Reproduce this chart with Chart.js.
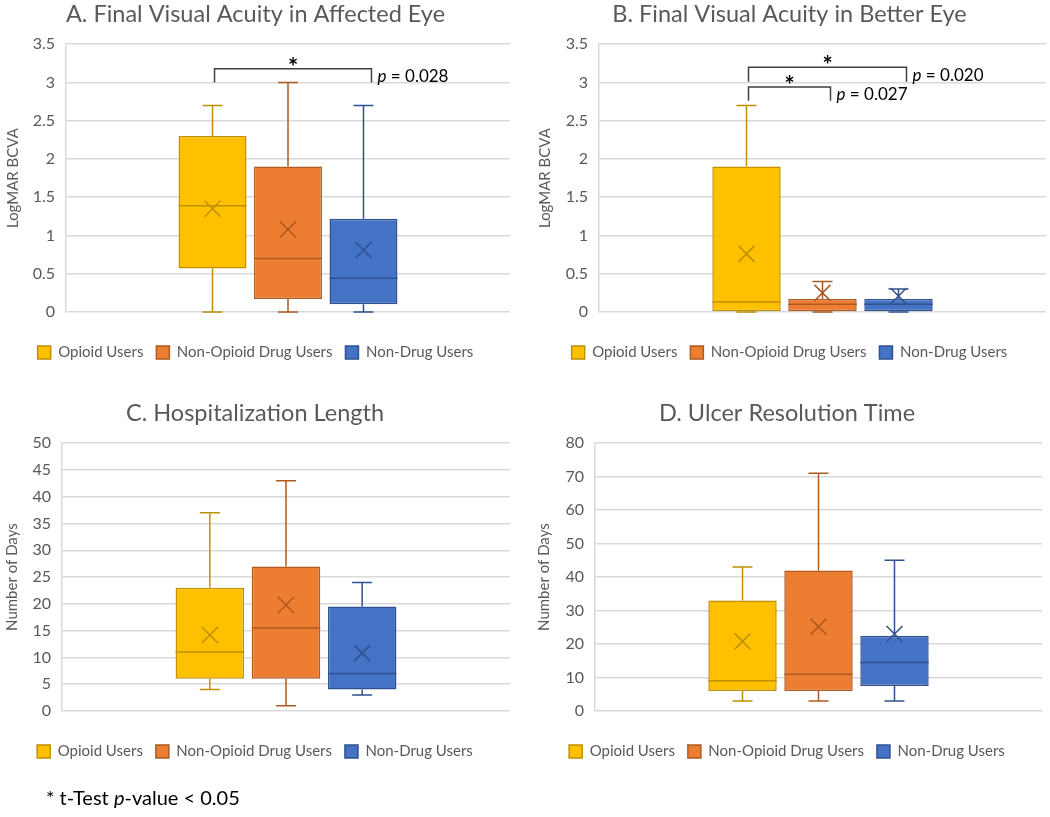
<!DOCTYPE html>
<html>
<head>
<meta charset="utf-8">
<script src="https://cdn.jsdelivr.net/npm/chart.js@4.4.1/dist/chart.umd.min.js"></script>
<style>
  body { margin: 0; background: #fff; width: 1050px; height: 817px; position: relative; overflow: hidden; font-family: Lato, sans-serif; }
  .panel { position: absolute; width: 525px; height: 390px; }
  #note { position: absolute; left: 46px; top: 785px; font-size: 20px; color: #000; white-space: nowrap; }
</style>
</head>
<body>
<div class="panel" style="left:0;top:0"><canvas id="chartA" width="525" height="390"></canvas></div>
<div class="panel" style="left:525px;top:0"><canvas id="chartB" width="525" height="390"></canvas></div>
<div class="panel" style="left:0;top:399px"><canvas id="chartC" width="525" height="390"></canvas></div>
<div class="panel" style="left:525px;top:399px"><canvas id="chartD" width="525" height="390"></canvas></div>
<div id="note">* t-Test <i>p</i>-value &lt; 0.05</div>

<script>
// grupos
const groups = ['Opioid Users', 'Non-Opioid Drug Users', 'Non-Drug Users'];

// A. agudeza visual ojo afectado (LogMAR)
const minA  = [0, 0, 0];
const q1A   = [0.57, 0.17, 0.10];
const medA  = [1.39, 0.70, 0.44];
const q3A   = [2.30, 1.90, 1.22];
const maxA  = [2.70, 3.00, 2.70];
const meanA = [1.35, 1.08, 0.81];
const ticksA = [0, 0.5, 1, 1.5, 2, 2.5, 3, 3.5];

// B. agudeza visual mejor ojo
const minB  = [0, 0, 0];
const q1B   = [0, 0, 0];
const medB  = [0.13, 0.10, 0.10];
const q3B   = [1.90, 0.17, 0.17];
const maxB  = [2.70, 0.40, 0.30];
const meanB = [0.76, 0.25, 0.21];
const ticksB = [0, 0.5, 1, 1.5, 2, 2.5, 3, 3.5];

// C. días de hospitalización
const minC  = [4, 1, 3];
const q1C   = [6, 6, 4];
const medC  = [11, 15.5, 7];
const q3C   = [23, 27, 19.5];
const maxC  = [37, 43, 24];
const meanC = [14.2, 19.8, 10.8];
const ticksC = [0, 5, 10, 15, 20, 25, 30, 35, 40, 45, 50];

// D. tiempo de resolución de la úlcera
const minD  = [3, 3, 3];
const q1D   = [6, 6, 7.5];
const medD  = [9, 11, 14.5];
const q3D   = [33, 42, 22.5];
const maxD  = [43, 71, 45];
const meanD = [20.8, 25.2, 23];
const ticksD = [0, 10, 20, 30, 40, 50, 60, 70, 80];

// comparaciones significativas (índices de grupo)
const sigA = [{ from: 0, to: 2, p: '0.028' }];
const sigB = [{ from: 0, to: 2, p: '0.020' }, { from: 0, to: 1, p: '0.027' }];

const fills = ['#FFC000', '#ED7D31', '#4472C4'];
const edges = ['#BF9000', '#AE5A21', '#2F528F'];
const FONT = 'Lato';
const GREY = '#595959';

// bigotes, mediana, media y corchetes
const boxExtras = {
    id: 'boxExtras',
    afterDatasetsDraw(chart, args, opts) {
        const ctx = chart.ctx;
        const y = chart.scales.y;
        const py = v => y.getPixelForValue(v);
        ctx.save();
        chart.data.datasets.forEach((ds, i) => {
            const bar = chart.getDatasetMeta(i).data[0];
            const s = ds.stats;
            const x = bar.x, half = bar.width / 2;
            ctx.strokeStyle = ds.borderColor;
            ctx.lineWidth = 1.5;
            ctx.beginPath();
            ctx.moveTo(x, py(s.q3)); ctx.lineTo(x, py(s.max));
            ctx.moveTo(x - 10, py(s.max)); ctx.lineTo(x + 10, py(s.max));
            ctx.moveTo(x, py(s.q1)); ctx.lineTo(x, py(s.min));
            ctx.moveTo(x - 10, py(s.min)); ctx.lineTo(x + 10, py(s.min));
            ctx.moveTo(x - half, py(s.med)); ctx.lineTo(x + half, py(s.med));
            const my = py(s.mean), m = 8;
            ctx.moveTo(x - m, my - m); ctx.lineTo(x + m, my + m);
            ctx.moveTo(x - m, my + m); ctx.lineTo(x + m, my - m);
            ctx.stroke();
        });

        (opts.brackets || []).forEach(b => {
            const x0 = chart.getDatasetMeta(b.from).data[0].x + 2;
            const x1 = chart.getDatasetMeta(b.to).data[0].x + 8;
            const yTop = py(b.top), yLeg = py(b.leg);
            ctx.strokeStyle = '#404040';
            ctx.lineWidth = 1.5;
            ctx.beginPath();
            ctx.moveTo(x0, yLeg); ctx.lineTo(x0, yTop); ctx.lineTo(x1, yTop); ctx.lineTo(x1, yLeg);
            ctx.stroke();

            ctx.fillStyle = '#000';
            ctx.textAlign = 'center';
            ctx.textBaseline = 'alphabetic';
            ctx.font = 'bold 24px ' + FONT;
            ctx.fillText('*', (x0 + x1) / 2, yTop + 7);

            const ty = (yTop + yLeg) / 2 + 1;
            ctx.textAlign = 'left';
            ctx.textBaseline = 'middle';
            ctx.font = 'italic 17px ' + FONT;
            ctx.fillText('p', x1 + 6, ty);
            const w = ctx.measureText('p').width;
            ctx.font = '17px ' + FONT;
            ctx.fillText(' = ' + b.p, x1 + 6 + w, ty);
        });
        ctx.restore();
    }
};

function makeBoxChart(id, c) {
    const datasets = groups.map((g, i) => ({
        label: g,
        data: [[c.q1[i], c.q3[i]]],
        backgroundColor: fills[i],
        borderColor: edges[i],
        borderWidth: 1.5,
        borderSkipped: false,
        categoryPercentage: 0.51,
        barPercentage: 0.9,
        stats: { min: c.min[i], q1: c.q1[i], med: c.med[i], q3: c.q3[i], max: c.max[i], mean: c.mean[i] }
    }));

    new Chart(document.getElementById(id), {
        type: 'bar',
        data: { labels: [''], datasets },
        plugins: [boxExtras],
        options: {
            responsive: false,
            animation: false,
            layout: { padding: { left: c.padLeft, right: c.padRight, top: 0, bottom: 20 } },
            scales: {
                x: {
                    display: true,
                    grid: { display: false },
                    border: { display: false },
                    ticks: { display: false },
                    afterFit: s => { s.height = 20; }
                },
                y: {
                    min: 0,
                    max: c.ticks[c.ticks.length - 1],
                    afterBuildTicks: axis => { axis.ticks = c.ticks.map(v => ({ value: v })); },
                    afterFit: s => { s.width = c.yWidth; },
                    grid: { color: '#d9d9d9', lineWidth: 1.5, drawTicks: false },
                    border: { display: true, color: '#d9d9d9', width: 1.5 },
                    ticks: {
                        padding: 11,
                        color: GREY,
                        font: { family: FONT, size: 16 },
                        callback: v => String(v)
                    },
                    title: {
                        display: true,
                        text: c.yTitle,
                        color: GREY,
                        font: { family: FONT, size: 15 },
                        padding: { top: 3, bottom: 0 }
                    }
                }
            },
            plugins: {
                title: {
                    display: true,
                    text: c.title,
                    color: GREY,
                    font: { family: FONT, size: 23.5, weight: 'normal' },
                    padding: { top: 0, bottom: 16 }
                },
                legend: {
                    position: 'bottom',
                    labels: {
                        color: GREY,
                        font: { family: FONT, size: 15 },
                        boxWidth: 13,
                        boxHeight: 13,
                        padding: 13
                    }
                },
                tooltip: { enabled: false },
                boxExtras: { brackets: c.brackets || [] }
            }
        }
    });
}

makeBoxChart('chartA', {
    title: 'A. Final Visual Acuity in Affected Eye', yTitle: 'LogMAR BCVA',
    min: minA, q1: q1A, med: medA, q3: q3A, max: maxA, mean: meanA, ticks: ticksA,
    padLeft: 1, padRight: 15, yWidth: 65,
    brackets: sigA.map(s => ({ ...s, top: 3.18, leg: 3.0 }))
});

makeBoxChart('chartB', {
    title: 'B. Final Visual Acuity in Better Eye', yTitle: 'LogMAR BCVA',
    min: minB, q1: q1B, med: medB, q3: q3B, max: maxB, mean: meanB, ticks: ticksB,
    padLeft: 8, padRight: 4, yWidth: 66,
    brackets: [
        { ...sigB[0], top: 3.20, leg: 3.01 },
        { ...sigB[1], top: 2.94, leg: 2.76 }
    ]
});

makeBoxChart('chartC', {
    title: 'C. Hospitalization Length', yTitle: 'Number of Days',
    min: minC, q1: q1C, med: medC, q3: q3C, max: maxC, mean: meanC, ticks: ticksC,
    padLeft: 0, padRight: 15, yWidth: 62
});

makeBoxChart('chartD', {
    title: 'D. Ulcer Resolution Time', yTitle: 'Number of Days',
    min: minD, q1: q1D, med: medD, q3: q3D, max: maxD, mean: meanD, ticks: ticksD,
    padLeft: 7, padRight: 8, yWidth: 63
});
</script>
</body>
</html>
